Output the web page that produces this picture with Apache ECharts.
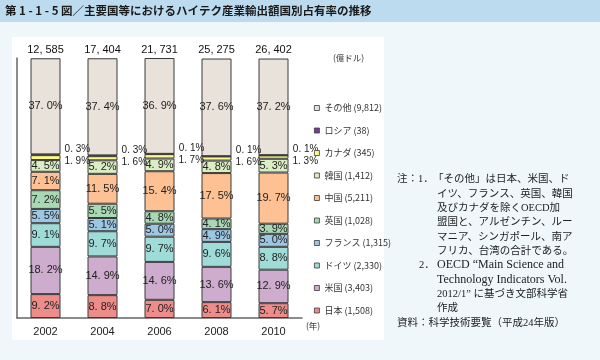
<!DOCTYPE html>
<html><head><meta charset="utf-8">
<script src="https://cdn.jsdelivr.net/npm/echarts@6/dist/echarts.min.js"></script>
<style>html,body{margin:0;padding:0;background:#eff7fa;}#c{width:600px;height:360px;}</style>
</head><body><div id="c"></div>
<script>
var years = ['2002', '2004', '2006', '2008', '2010'];
var totals = ['12, 585', '17, 404', '21, 731', '25, 275', '26, 402'];
var countries = ['日本', '米国', 'ドイツ', 'フランス', '英国', '中国', '韓国', 'カナダ', 'ロシア', 'その他'];
var amounts2010 = ['1,508', '3,403', '2,330', '1,315', '1,028', '5,211', '1,412', '345', '38', '9,812'];
var japan   = [9.2, 8.8, 7.0, 6.1, 5.7];
var usa     = [18.2, 14.9, 14.6, 13.6, 12.9];
var germany = [9.1, 9.7, 9.7, 9.6, 8.8];
var france  = [5.5, 5.1, 5.0, 4.9, 5.0];
var uk      = [7.2, 5.5, 4.8, 4.1, 3.9];
var china   = [7.1, 11.5, 15.4, 17.5, 19.7];
var korea   = [4.5, 5.2, 4.9, 4.8, 5.3];
var canada  = [1.9, 1.6, 1.7, 1.6, 1.3];
var russia  = [0.3, 0.3, 0.1, 0.1, 0.1];
var others  = [37.0, 37.4, 36.9, 37.6, 37.2];
var values = [japan, usa, germany, france, uk, china, korea, canada, russia, others];
var colors = ['#ee8c8a', '#cdaccd', '#9fdcd8', '#9cc6e2', '#a9d9b4', '#fdc194', '#dbedc4', '#fbf98a', '#7a3a9a', '#e9e2db'];
// [text, x, y, latin?]
var noteLines = [
  ['注：', 397, 179, 0], ['1．', 418, 179, 0], ['「その他」は日本、米国、ド', 433, 179, 0],
  ['イツ、フランス、英国、韓国', 437, 194, 0],
  ['及びカナダを除くOECD加', 437, 208, 0],
  ['盟国と、アルゼンチン、ルー', 437, 222, 0],
  ['マニア、シンガポール、南ア', 437, 237, 0],
  ['フリカ、台湾の合計である。', 437, 251, 0],
  ['2．', 419, 265, 0], ['OECD “Main Science and', 437, 265, 1],
  ['Technology Indicators Vol.', 437, 280, 1],
  ['2012/1” に基づき文部科学省', 437, 294, 0],
  ['作成', 437, 308, 0],
  ['資料：科学技術要覧（平成24年版）', 397, 323, 0]
];

function fmt(v) { var s = v.toFixed(1).split('.'); return s[0] + '. ' + s[1] + '%'; }

var labelFont = 'Liberation Sans, Arial, sans-serif';
var series = countries.map(function (name, i) {
  var lbl = { show: true, position: 'inside', fontSize: 11, color: '#222', fontFamily: labelFont,
    textBorderWidth: 0, textShadowBlur: 0,
    formatter: function (p) { return fmt(p.value); } };
  if (name === 'カナダ') { lbl.position = 'right'; lbl.distance = 4; lbl.offset = [0, 4]; lbl.fontSize = 10; }
  if (name === 'ロシア') { lbl.position = 'right'; lbl.distance = 4; lbl.offset = [0, -6]; lbl.fontSize = 10; }
  return {
    name: name, type: 'bar', stack: 'all', barWidth: 30,
    data: values[i],
    itemStyle: { color: colors[i], borderColor: '#3a3a3a', borderWidth: 1 },
    label: lbl,
    emphasis: { disabled: true }
  };
});
// totals above bars via an empty stacked series
series.push({
  name: 'total', type: 'bar', stack: 'all', barWidth: 30, data: years.map(function () { return 0; }),
  itemStyle: { color: 'transparent' }, silent: true,
  label: { show: true, position: 'top', distance: 3, fontSize: 11, color: '#111', fontFamily: labelFont,
    formatter: function (p) { return totals[p.dataIndex]; } }
});

var graphics = [
  { type: 'rect', shape: { x: 0, y: 0, width: 600, height: 22 }, style: { fill: '#bddbef' }, z: -10 },
  { type: 'rect', shape: { x: 12, y: 37, width: 372, height: 303 }, style: { fill: '#ffffff' }, z: -10 },
  { type: 'text', x: 5, y: 11, style: { text: '第 1 - 1 - 5 図／主要国等におけるハイテク産業輸出額国別占有率の推移', fontSize: 11.5, fontWeight: 'bold', fill: '#1a1a1a', fontFamily: 'Noto Sans CJK JP', verticalAlign: 'middle' } },
  { type: 'text', x: 333, y: 58, style: { text: '(億ドル)', fontSize: 8.5, fill: '#333', fontFamily: 'Noto Sans CJK JP', verticalAlign: 'middle' } },
  { type: 'text', x: 306, y: 326, style: { text: '(年)', fontSize: 8.5, fill: '#333', fontFamily: 'Noto Sans CJK JP', verticalAlign: 'middle' } }
];
noteLines.forEach(function (l) {
  graphics.push({ type: 'text', x: l[1], y: l[2], style: { text: l[0],
    fontSize: l[3] ? 12 : 10.5, fill: '#222',
    fontFamily: l[3] ? 'Liberation Serif, serif' : 'Liberation Serif, Noto Sans CJK JP', verticalAlign: 'middle' } });
});

var chart = echarts.init(document.getElementById('c'), null, { renderer: 'canvas' });
chart.setOption({
  backgroundColor: '#eff7fa',
  animation: false,
  grid: { left: 17, top: 58, width: 285, bottom: 42 },
  xAxis: {
    type: 'category', data: years,
    axisLine: { lineStyle: { color: '#666', width: 1.5 } },
    axisTick: { show: false },
    axisLabel: { fontSize: 11, color: '#222', margin: 8, fontFamily: labelFont }
  },
  yAxis: {
    type: 'value', min: 0, max: 100.1,
    axisLine: { show: true, lineStyle: { color: '#666', width: 1.5 } },
    axisTick: { show: false }, axisLabel: { show: false }, splitLine: { show: false }
  },
  legend: {
    orient: 'vertical', left: 309, top: 97,
    data: countries.slice().reverse(),
    icon: 'rect', itemWidth: 5, itemHeight: 5, itemGap: 10.5,
    selectedMode: false,
    itemStyle: { borderWidth: 0.8 },
    textStyle: { fontSize: 9, color: '#333', lineHeight: 12, fontFamily: 'Noto Sans CJK JP' },
    formatter: function (name) { return name + ' (' + amounts2010[countries.indexOf(name)] + ')'; }
  },
  graphic: graphics,
  series: series
});
</script></body></html>
